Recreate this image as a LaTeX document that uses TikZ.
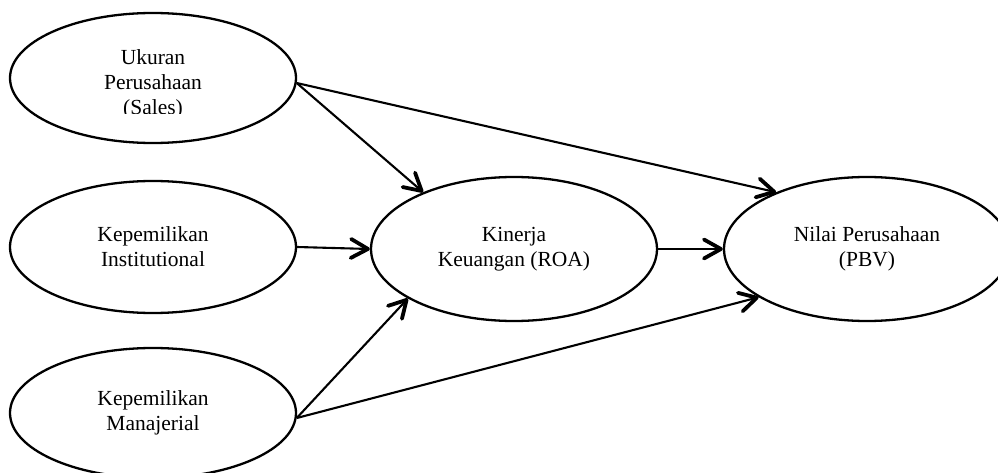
\documentclass[tikz,border=0pt]{standalone}
\usepackage{fontspec}
\setmainfont{Liberation Serif}
\usetikzlibrary{shapes.geometric,arrows.meta}
\begin{document}
\begin{tikzpicture}[x=1pt,y=-1pt,
  oval/.style={draw=black,line width=2.3pt,ellipse,inner sep=0pt,
    minimum width=286pt,align=center,font=\fontsize{21.5}{24.8}\selectfont},
  lbl/.style={inner sep=0pt,align=center,font=\fontsize{21.5}{24.8}\selectfont},
  conn/.style={line width=2.1pt,-{Straight Barb[length=17pt,width=19pt,line width=3.8pt,round]}}]
\useasboundingbox (0,0) rectangle (998,473);
\node[oval,minimum height=130pt] (size) at (153,78) {};
\begin{scope}
  \clip (0,0) rectangle (998,113.5);
  \node[lbl] (sizetext) at (153,84.5) {Ukuran\\Perusahaan\\(Sales)};
\end{scope}
\node[oval,minimum height=132pt] (inst) at (153,247) {Kepemilikan\\Institutional};
\node[oval,minimum height=130pt] (man) at (153,413) {Kepemilikan\\Manajerial};
\node[oval,minimum height=144pt] (roa) at (514,249) {Kinerja\\Keuangan (ROA)};
\node[oval,minimum height=144pt] (pbv) at (867,249) {Nilai Perusahaan\\(PBV)};
\draw[conn] (size.-2) -- (roa.148);
\draw[conn] (size.-2) -- (pbv.148.7);
\draw[conn] (inst.east) -- (roa.west);
\draw[conn] (roa.east) -- (pbv.west);
\draw[conn] (man.-2) -- (roa.205.7);
\draw[conn] (man.-2) -- (pbv.204.8);
\end{tikzpicture}
\end{document}
